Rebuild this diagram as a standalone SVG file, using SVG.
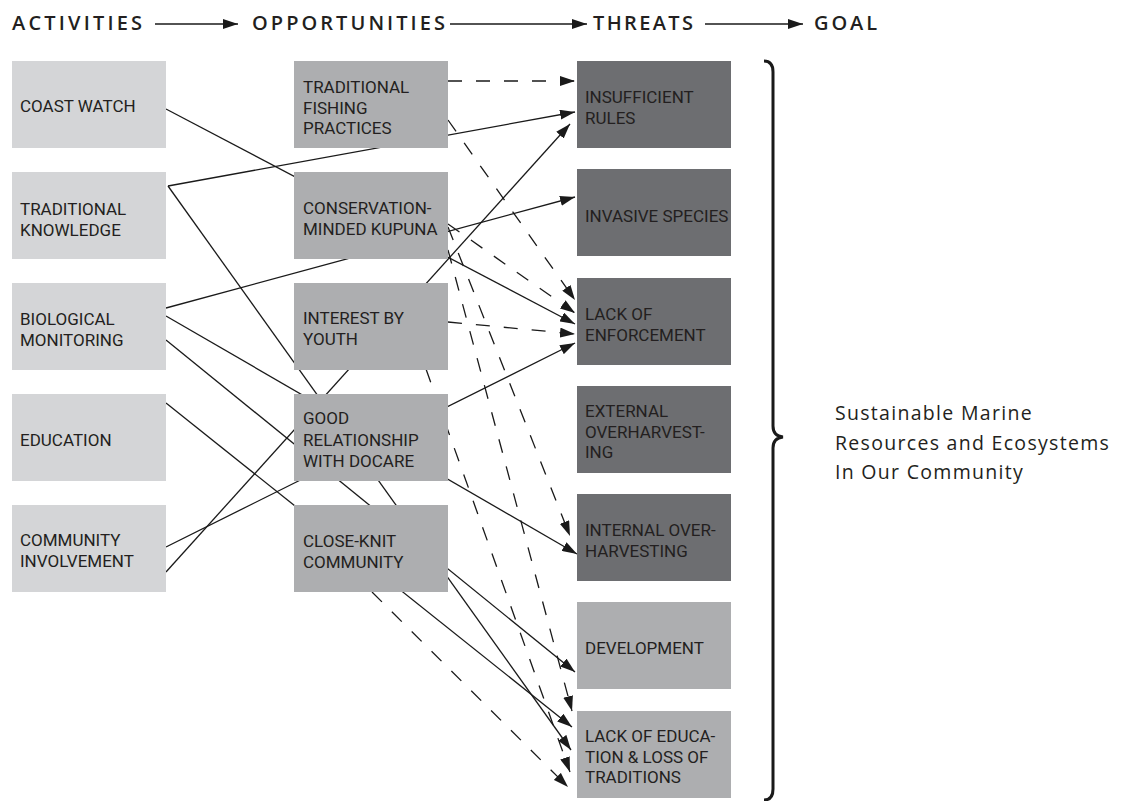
<svg xmlns="http://www.w3.org/2000/svg" width="1122" height="801" viewBox="0 0 1122 801">
<style>
text{font-family:"Open Sans","Liberation Sans",sans-serif;fill:#231f20}
.t{font-family:Roboto,"Liberation Sans",sans-serif;font-size:17px}
.hd{font-size:20px;font-weight:600}
.goal{font-size:19.5px;letter-spacing:1.3px}
.a{fill:#d4d5d7}
.o{fill:#adaeb0}
.th{fill:#6d6e71}
.c{stroke:#1a1a1a;stroke-width:1.3;fill:none;marker-end:url(#ah)}
.d{stroke-dasharray:14 14}
</style>
<defs>
<marker id="ah" viewBox="0 0 15 10" refX="15" refY="5" markerWidth="15" markerHeight="10" markerUnits="userSpaceOnUse" orient="auto">
<path d="M0,0 L15,5 L0,10 z" fill="#1a1a1a"/>
</marker>
</defs>
<rect width="1122" height="801" fill="#ffffff"/>
<g id="header">
<text class="hd" x="12" y="30" textLength="130" lengthAdjust="spacing">ACTIVITIES</text>
<text class="hd" x="252" y="30" textLength="193" lengthAdjust="spacing">OPPORTUNITIES</text>
<text class="hd" x="593" y="30" textLength="100" lengthAdjust="spacing">THREATS</text>
<text class="hd" x="814" y="30" textLength="63" lengthAdjust="spacing">GOAL</text>
<path class="c" d="M155,24 L238,24"/>
<path class="c" d="M450,24 L587,24"/>
<path class="c" d="M705,24 L803,24"/>
</g>
<g id="connectors">
<path class="c" d="M166,109 L575,324"/>
<path class="c" d="M168,186 L575,112"/>
<path class="c" d="M168,186 L571,750"/>
<path class="c" d="M166,308 L575,197"/>
<path class="c" d="M166,316 L577,554"/>
<path class="c" d="M166,340 L575,672"/>
<path class="c" d="M166,403 L572,727"/>
<path class="c" d="M166,547 L575,343"/>
<path class="c" d="M166,572 L570,124"/>
<path class="c d" d="M448,81 L575,81"/>
<path class="c d" d="M448,120 L575,300"/>
<path class="c d" d="M448,224 L575,313"/>
<path class="c d" d="M448,227 L570,536"/>
<path class="c d" d="M448,250 L572,711"/>
<path class="c d" d="M448,322 L575,334"/>
<path class="c d" d="M426,369 L570,772"/>
<path class="c d" d="M372,592 L568,787"/>
</g>
<g id="act-coast-watch"><rect class="a" x="12" y="61" width="154" height="87"/><text class="t" x="20" y="112">COAST WATCH</text></g>
<g id="act-traditional-knowledge"><rect class="a" x="12" y="172" width="154" height="87"/><text class="t" x="20" y="215">TRADITIONAL</text><text class="t" x="20" y="235.5">KNOWLEDGE</text></g>
<g id="act-biological-monitoring"><rect class="a" x="12" y="283" width="154" height="87"/><text class="t" x="20" y="325">BIOLOGICAL</text><text class="t" x="20" y="345.5">MONITORING</text></g>
<g id="act-education"><rect class="a" x="12" y="394" width="154" height="87"/><text class="t" x="20" y="446">EDUCATION</text></g>
<g id="act-community-involvement"><rect class="a" x="12" y="505" width="154" height="87"/><text class="t" x="20" y="546">COMMUNITY</text><text class="t" x="20" y="566.5">INVOLVEMENT</text></g>
<g id="opp-traditional-fishing"><rect class="o" x="294" y="61" width="154" height="87"/><text class="t" x="303" y="93">TRADITIONAL</text><text class="t" x="303" y="113.5">FISHING</text><text class="t" x="303" y="134">PRACTICES</text></g>
<g id="opp-conservation-kupuna"><rect class="o" x="294" y="172" width="154" height="87"/><text class="t" x="303" y="214">CONSERVATION-</text><text class="t" x="303" y="234.5">MINDED KUPUNA</text></g>
<g id="opp-interest-youth"><rect class="o" x="294" y="283" width="154" height="87"/><text class="t" x="303" y="324">INTEREST BY</text><text class="t" x="303" y="345">YOUTH</text></g>
<g id="opp-good-relationship"><rect class="o" x="294" y="394" width="154" height="87"/><text class="t" x="303" y="424">GOOD</text><text class="t" x="303" y="445.5">RELATIONSHIP</text><text class="t" x="303" y="467">WITH DOCARE</text></g>
<g id="opp-close-knit"><rect class="o" x="294" y="505" width="154" height="87"/><text class="t" x="303" y="547">CLOSE-KNIT</text><text class="t" x="303" y="567.5">COMMUNITY</text></g>
<g id="thr-insufficient-rules"><rect class="th" x="577" y="61" width="154" height="87"/><text class="t" x="585" y="103">INSUFFICIENT</text><text class="t" x="585" y="123.5">RULES</text></g>
<g id="thr-invasive-species"><rect class="th" x="577" y="169" width="154" height="87"/><text class="t" x="585" y="222">INVASIVE SPECIES</text></g>
<g id="thr-lack-enforcement"><rect class="th" x="577" y="278" width="154" height="87"/><text class="t" x="585" y="320">LACK OF</text><text class="t" x="585" y="340.5">ENFORCEMENT</text></g>
<g id="thr-external-overharvesting"><rect class="th" x="577" y="386" width="154" height="87"/><text class="t" x="585" y="417">EXTERNAL</text><text class="t" x="585" y="437.5">OVERHARVEST-</text><text class="t" x="585" y="458">ING</text></g>
<g id="thr-internal-overharvesting"><rect class="th" x="577" y="494" width="154" height="87"/><text class="t" x="585" y="536">INTERNAL OVER-</text><text class="t" x="585" y="556.5">HARVESTING</text></g>
<g id="thr-development"><rect class="o" x="577" y="602" width="154" height="87"/><text class="t" x="585" y="654">DEVELOPMENT</text></g>
<g id="thr-lack-education"><rect class="o" x="577" y="711" width="154" height="87"/><text class="t" x="585" y="742">LACK OF EDUCA-</text><text class="t" x="585" y="762.5">TION &amp; LOSS OF</text><text class="t" x="585" y="783">TRADITIONS</text></g>
<g id="goal">
<path d="M764,61 Q773,61 773,72 L773,426 Q773,436 783,437 Q773,438 773,448 L773,789 Q773,800 764,800" fill="none" stroke="#1a1a1a" stroke-width="3"/>
<text class="goal" x="835" y="420">Sustainable Marine</text>
<text class="goal" x="835" y="450">Resources and Ecosystems</text>
<text class="goal" x="835" y="479">In Our Community</text>
</g>
</svg>
